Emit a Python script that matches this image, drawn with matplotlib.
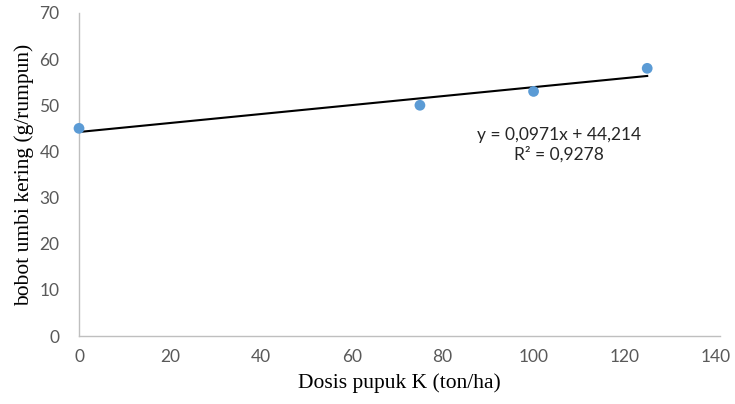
import matplotlib
matplotlib.use("Agg")
import matplotlib.pyplot as plt
import numpy as np

dose = [0, 75, 100, 125]
weight = [45, 50, 53, 58]
slope = 0.0971
intercept = 44.214
eq_text = "y = 0,0971x + 44,214\nR² = 0,9278"
xticks = [0, 20, 40, 60, 80, 100, 120, 140]
yticks = [0, 10, 20, 30, 40, 50, 60, 70]

fig = plt.figure(figsize=(7.35, 4.04), dpi=100)
ax = fig.add_axes([0.1075, 0.168, 0.872, 0.80])

ax.scatter(dose, weight, s=60, color="#5B9BD5", zorder=3, edgecolors="none", clip_on=False)
xl = np.array([min(dose), max(dose)])
ax.plot(xl, slope * xl + intercept, color="black", lw=1.5, zorder=2)

ax.set_xlim(0, 141)
ax.set_ylim(0, 70)
ax.set_xticks(xticks)
ax.set_yticks(yticks)
ax.tick_params(length=0, labelsize=12.5, labelcolor="#595959")
ax.tick_params(axis="x", pad=9)
ax.tick_params(axis="y", pad=14)
for lab in ax.get_xticklabels() + ax.get_yticklabels():
    lab.set_family("Lato")
for s in ["top", "right"]:
    ax.spines[s].set_visible(False)
for s in ["left", "bottom"]:
    ax.spines[s].set_color("#BFBFBF")
    ax.spines[s].set_linewidth(1)

ax.set_xlabel("Dosis pupuk K (ton/ha)", family="Liberation Serif", fontsize=15.5, labelpad=6)
ax.set_ylabel("bobot umbi kering (g/rumpun)", family="Liberation Serif", fontsize=15.5, labelpad=4)

ax.text(105.5, 41.5, eq_text, family="Lato", fontsize=12.5, color="#262626",
        ha="center", va="center", linespacing=1.25)

fig.savefig("out.png", dpi=100)
